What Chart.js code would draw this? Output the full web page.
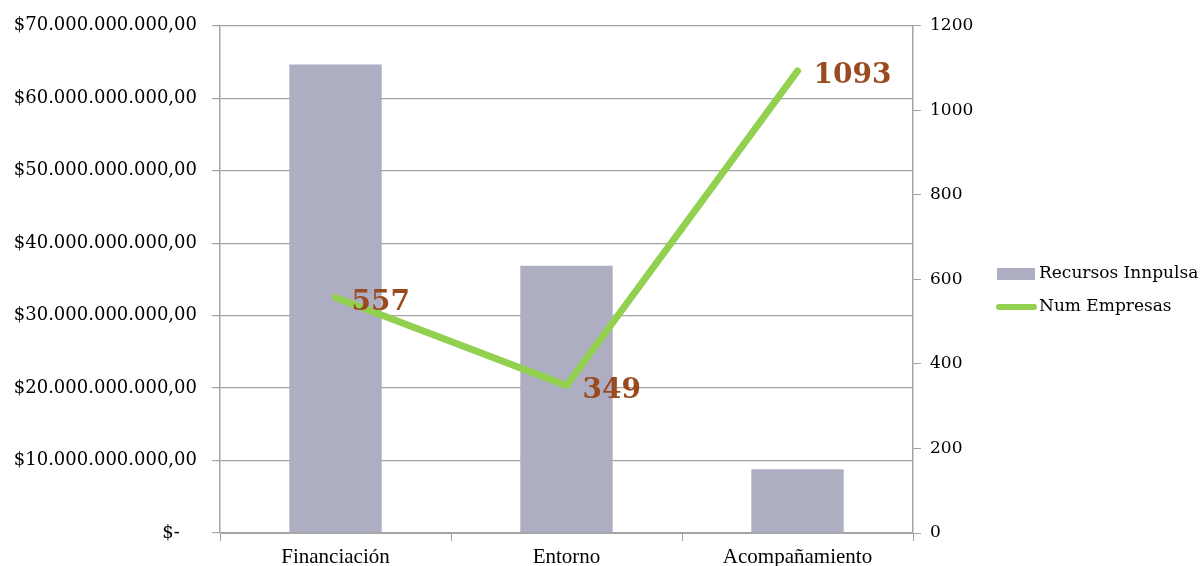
<!DOCTYPE html>
<html>
<head>
<meta charset="utf-8">
<script src="https://cdn.jsdelivr.net/npm/chart.js@4"></script>
<style>
  html, body { margin: 0; padding: 0; background: #fff; }
  #wrap { width: 1202px; height: 566px; }
</style>
</head>
<body>
<div id="wrap"><canvas id="myChart1"></canvas></div>
<script>
const categorias = ['Financiación', 'Entorno', 'Acompañamiento']
const recursos = [64650000000, 36900000000, 8800000000]
const empresas = [557, 349, 1093]
const nombresSeries = ['Recursos Innpulsa', 'Num Empresas']

const colorBarra = '#aeaec2'
const colorLinea = '#92d050'
const colorEtiqueta = '#994b1f'
const colorGrid = '#a3a3a3'

function pesos(v) {
  if (v === 0) return '$-   '
  let s = String(Math.round(v)).replace(/\B(?=(\d{3})+(?!\d))/g, '.')
  return '$' + s + ',00'
}

// etiquetas de la linea (557, 349, 1093)
const etiquetas = {
  id: 'etiquetas',
  afterDatasetsDraw(chart) {
    const ctx = chart.ctx
    const meta = chart.getDatasetMeta(1)
    ctx.save()
    ctx.font = 'bold 28px "DejaVu Serif"'
    ctx.fillStyle = colorEtiqueta
    ctx.textAlign = 'left'
    ctx.textBaseline = 'middle'
    meta.data.forEach((p, i) => {
      ctx.fillText(String(empresas[i]), p.x + 16, p.y + 5)
    })
    ctx.restore()
  }
}

// leyenda a la derecha
const leyenda = {
  id: 'leyenda',
  afterDraw(chart) {
    const ctx = chart.ctx
    const x = 997
    ctx.save()
    ctx.fillStyle = colorBarra
    ctx.fillRect(x, 268, 38, 12)
    ctx.strokeStyle = colorLinea
    ctx.lineWidth = 6
    ctx.lineCap = 'round'
    ctx.beginPath()
    ctx.moveTo(x + 2, 307)
    ctx.lineTo(x + 37, 307)
    ctx.stroke()
    ctx.fillStyle = '#000'
    ctx.font = '17px "DejaVu Serif"'
    ctx.textBaseline = 'middle'
    ctx.fillText(nombresSeries[0], x + 42, 274)
    ctx.fillText(nombresSeries[1], x + 42, 307)
    ctx.restore()
  }
}

const data = {
  labels: categorias,
  datasets: [{
    type: 'bar',
    label: nombresSeries[0],
    data: recursos,
    backgroundColor: colorBarra,
    borderWidth: 0,
    categoryPercentage: 1,
    barPercentage: 0.4,
    yAxisID: 'y',
    order: 2
  }, {
    type: 'line',
    label: nombresSeries[1],
    data: empresas,
    borderColor: colorLinea,
    backgroundColor: colorLinea,
    borderWidth: 7,
    borderCapStyle: 'round',
    borderJoinStyle: 'round',
    pointRadius: 0,
    tension: 0,
    yAxisID: 'y1',
    order: 1
  }]
}

const config = {
  type: 'bar',
  data: data,
  plugins: [etiquetas, leyenda],
  options: {
    responsive: true,
    maintainAspectRatio: false,
    animation: false,
    layout: {
      padding: { top: 23, right: 209, left: 0, bottom: 0 }
    },
    plugins: {
      legend: { display: false },
      tooltip: { enabled: false }
    },
    scales: {
      x: {
        offset: true,
        grid: {
          offset: true,
          drawOnChartArea: false,
          drawTicks: true,
          tickLength: 8,
          color: colorGrid
        },
        border: { display: true, color: colorGrid },
        ticks: {
          color: '#000',
          padding: 4,
          font: { family: '"Liberation Serif"', size: 21 }
        },
        afterFit(scale) { scale.height = 33 }
      },
      y: {
        position: 'left',
        min: 0,
        max: 70000000000,
        grid: {
          color: colorGrid,
          lineWidth: 1.2,
          tickLength: 8
        },
        border: { display: true, color: colorGrid, width: 1.5 },
        ticks: {
          stepSize: 10000000000,
          color: '#000',
          padding: 15,
          font: { family: '"DejaVu Serif"', size: 18 },
          callback: (v) => pesos(v)
        },
        afterFit(scale) { scale.width = 220 }
      },
      y1: {
        position: 'right',
        min: 0,
        max: 1200,
        grid: {
          drawOnChartArea: false,
          drawTicks: true,
          tickLength: 8,
          color: colorGrid
        },
        border: { display: true, color: colorGrid, width: 1.5 },
        ticks: {
          stepSize: 200,
          color: '#000',
          padding: 9,
          font: { family: '"DejaVu Serif"', size: 17 },
          callback: (v) => String(v)
        },
        afterFit(scale) { scale.width = 80 }
      }
    }
  }
}

const ctx1 = document.getElementById('myChart1')
new Chart(ctx1, config)
</script>
</body>
</html>
